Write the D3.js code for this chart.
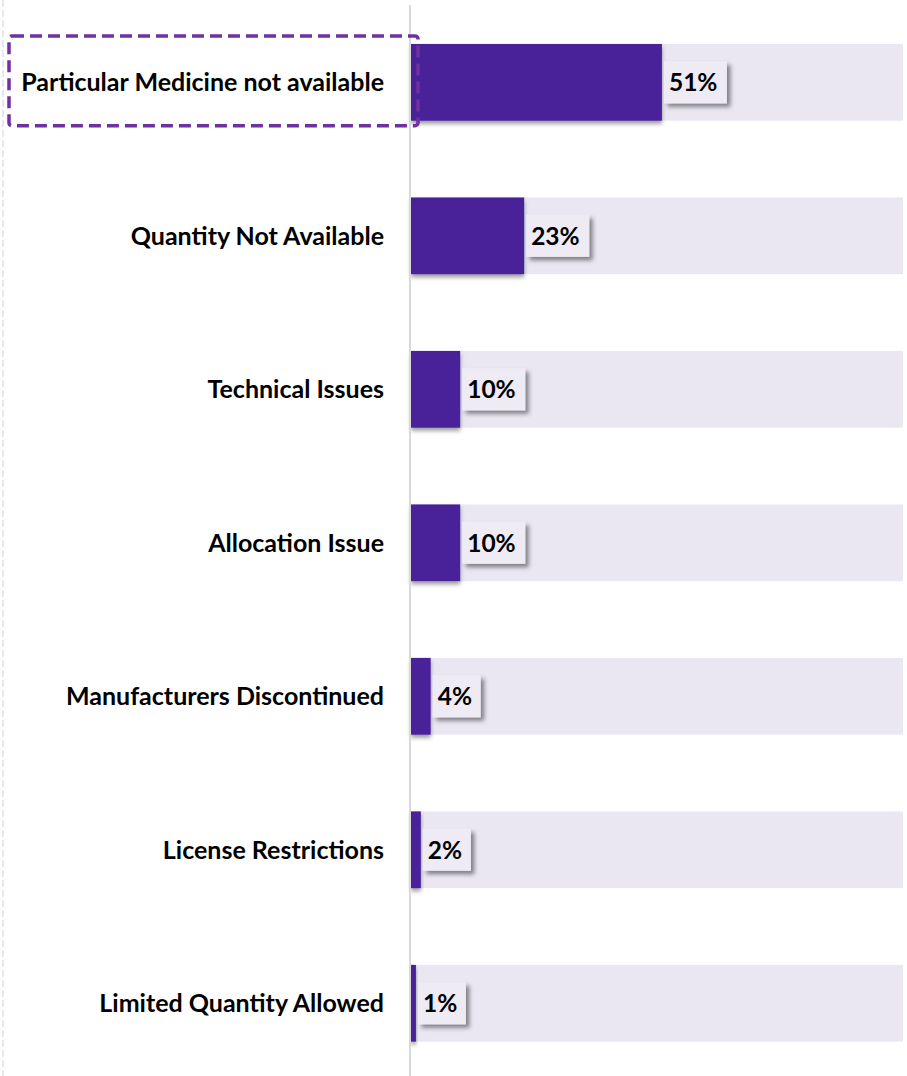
<!DOCTYPE html>
<html>
<head>
<meta charset="utf-8">
<script src="https://cdn.jsdelivr.net/npm/d3@7"></script>
<style>
  html, body { margin: 0; padding: 0; background: #ffffff; }
  svg { display: block; }
</style>
</head>
<body>
<svg id="chart" width="907" height="1076"></svg>
<script>
// Reasons for unfulfilled orders, share of responses (%)
const categories = [
  "Particular Medicine not available",
  "Quantity Not Available",
  "Technical Issues",
  "Allocation Issue",
  "Manufacturers Discontinued",
  "License Restrictions",
  "Limited Quantity Allowed"
];
const values = [51, 23, 10, 10, 4, 2, 1];
const valueLabels = ["51%", "23%", "10%", "10%", "4%", "2%", "1%"];
const highlighted = ["Particular Medicine not available"];

const W = 907, H = 1076;
const svg = d3.select("#chart");

const x = d3.scaleLinear().domain([0, 100]).range([411, 903]);
const y = d3.scaleBand().domain(categories).range([5.6, 1080]).paddingInner(0.5).paddingOuter(0.25);

const defs = svg.append("defs");
const boxShadow = defs.append("filter").attr("id", "boxShadow")
  .attr("x", "-30%").attr("y", "-30%").attr("width", "170%").attr("height", "170%");
boxShadow.append("feDropShadow").attr("dx", 3.5).attr("dy", 3.5).attr("stdDeviation", 2.2)
  .attr("flood-color", "#000").attr("flood-opacity", 0.45);
const barShadow = defs.append("filter").attr("id", "barShadow")
  .attr("x", "-30%").attr("y", "-30%").attr("width", "160%").attr("height", "160%");
barShadow.append("feDropShadow").attr("dx", 0).attr("dy", 3).attr("stdDeviation", 2)
  .attr("flood-color", "#000").attr("flood-opacity", 0.4);

// dashed guide along the left edge
svg.append("line")
  .attr("x1", 3).attr("x2", 3).attr("y1", 0).attr("y2", H)
  .attr("stroke", "#E4DBEF").attr("stroke-width", 1.5).attr("stroke-dasharray", "7,3");

const rows = svg.append("g").selectAll("g").data(categories).join("g");

// full-width tracks
rows.append("rect")
  .attr("x", x(0)).attr("y", d => y(d))
  .attr("width", x(100) - x(0)).attr("height", y.bandwidth())
  .attr("fill", "#EAE7F3");

// value bars
rows.append("rect")
  .attr("x", x(0)).attr("y", d => y(d))
  .attr("width", (d, i) => x(values[i]) - x(0)).attr("height", y.bandwidth())
  .attr("fill", "#48209A")
  .attr("filter", "url(#barShadow)");

// category axis line
svg.append("line")
  .attr("x1", 410).attr("x2", 410).attr("y1", 5).attr("y2", H)
  .attr("stroke", "#D9D9D9").attr("stroke-width", 2);

// category labels
rows.append("text")
  .attr("x", 384).attr("y", d => y(d) + y.bandwidth() / 2)
  .attr("dy", "0.35em")
  .attr("text-anchor", "end")
  .attr("font-family", "Lato, 'Open Sans', sans-serif")
  .attr("font-weight", 700)
  .attr("font-size", 25)
  .attr("fill", "#000")
  .text(d => d);

// value call-outs
const callouts = rows.append("g")
  .attr("transform", (d, i) => `translate(${x(values[i]) + 2},${y(d) + y.bandwidth() / 2})`);
callouts.append("rect")
  .attr("x", 0).attr("y", -21)
  .attr("width", (d, i) => valueLabels[i].length > 2 ? 63 : 48)
  .attr("height", 42)
  .attr("fill", "#EEEBF5")
  .attr("filter", "url(#boxShadow)");
callouts.append("text")
  .attr("x", 5).attr("y", 0).attr("dy", "0.36em")
  .attr("font-family", "Lato, 'Open Sans', sans-serif")
  .attr("font-weight", 700)
  .attr("font-size", 24.5)
  .attr("fill", "#000")
  .text((d, i) => valueLabels[i]);

// dashed highlight around the leading category
svg.append("g").selectAll("rect").data(highlighted).join("rect")
  .attr("x", 9).attr("y", d => y(d) - 8)
  .attr("width", 409).attr("height", y.bandwidth() + 13)
  .attr("rx", 3).attr("ry", 3)
  .attr("fill", "none")
  .attr("stroke", "#7030A0").attr("stroke-width", 3.5)
  .attr("stroke-dasharray", "12,6");
</script>
</body>
</html>
